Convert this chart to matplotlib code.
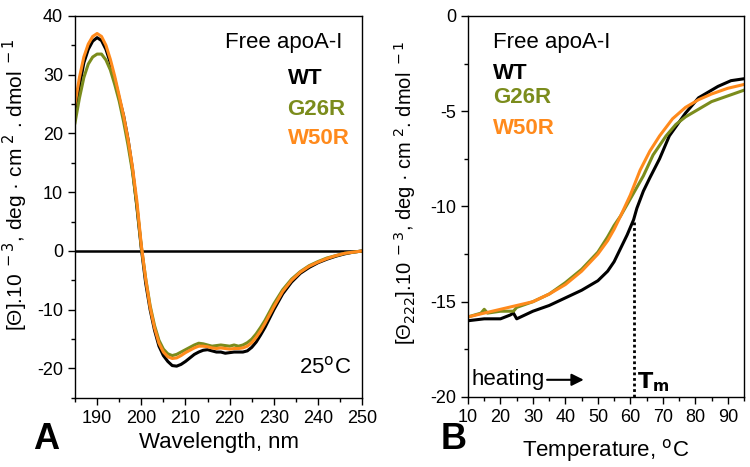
import numpy as np
import matplotlib
matplotlib.use('Agg')
import matplotlib.pyplot as plt
from matplotlib.ticker import MultipleLocator

plt.rcParams['font.family'] = ['Liberation Sans', 'DejaVu Sans']
plt.rcParams['axes.unicode_minus'] = False

# panel A: CD spectra at 25 C
wl = [185, 186, 187, 188, 189, 190, 191, 192, 193, 194, 195, 196, 197, 198, 199, 200,
      201, 202, 203, 204, 205, 206, 207, 208, 209, 210, 211, 212, 213, 214, 215, 216,
      217, 218, 219, 220, 221, 222, 223, 224, 225, 226, 227, 228, 229, 230, 232, 234,
      236, 238, 240, 242, 244, 246, 248, 250]
cd_wt = [23.5, 28, 32, 34.3, 35.7, 36.3, 35.8, 34.3, 32, 29.2, 26, 23, 19, 14, 7.5, 0.5,
         -5.5, -10, -13.5, -16.2, -17.8, -18.8, -19.5, -19.6, -19.3, -18.8, -18.2, -17.6, -17.2, -16.9, -16.8, -17.0,
         -17.2, -17.2, -17.4, -17.3, -17.2, -17.2, -17.2, -17.0, -16.4, -15.5, -14.3, -13.0, -11.5, -10.0, -7.3, -5.3,
         -3.8, -2.8, -2.0, -1.4, -0.9, -0.5, -0.2, 0]
cd_g26r = [21.8, 26, 29.5, 31.8, 33, 33.5, 33.5, 32.5, 30.8, 28.3, 25.5, 22, 18, 13.5, 7.8, 0.8,
           -4.7, -9.3, -12.7, -15.2, -16.7, -17.5, -17.8, -17.6, -17.2, -16.8, -16.4, -16.0, -15.7, -15.8, -16.0, -16.2,
           -16.1, -16.0, -16.1, -16.2, -16.0, -16.2, -16.0, -15.6, -15.0, -14.1, -13.0, -11.8, -10.4, -9.0, -6.6, -4.8,
           -3.5, -2.5, -1.8, -1.2, -0.8, -0.4, -0.2, 0]
cd_w50r = [25, 29.5, 33, 35.2, 36.5, 37, 36.5, 35, 32.6, 29.7, 26.4, 23, 19, 14.3, 8.5, 1.0,
           -4.8, -9.6, -13.1, -15.7, -17.2, -18.0, -18.3, -18.2, -17.8, -17.3, -16.9, -16.5, -16.2, -16.2, -16.3, -16.5,
           -16.6, -16.5, -16.6, -16.7, -16.6, -16.6, -16.5, -16.2, -15.6, -14.7, -13.6, -12.3, -10.9, -9.5, -6.9, -5.0,
           -3.6, -2.6, -1.9, -1.3, -0.8, -0.4, -0.2, 0]

# panel B: thermal unfolding at 222 nm
t_wt = [10, 15, 20, 23, 24, 25, 30, 35, 40, 45, 50, 53, 55, 57, 59, 61, 62, 64, 66, 69, 72, 77, 81, 87, 91, 95]
m_wt = [-16.0, -15.9, -15.9, -15.7, -15.6, -15.9, -15.5, -15.2, -14.8, -14.4, -13.9, -13.4, -12.9, -12.2, -11.5,
        -10.7, -10.1, -9.2, -8.5, -7.5, -6.3, -5.1, -4.3, -3.7, -3.4, -3.3]
t_g26r = [10, 14, 15, 16, 20, 24, 25, 30, 35, 40, 45, 50, 53, 55, 57, 60, 64, 67, 71, 74, 77, 81, 85, 90, 95]
m_g26r = [-15.8, -15.6, -15.4, -15.6, -15.5, -15.5, -15.3, -15.0, -14.6, -14.0, -13.3, -12.4, -11.6, -11.0, -10.5,
          -9.6, -8.4, -7.3, -6.3, -5.7, -5.3, -4.9, -4.5, -4.2, -3.9]
t_w50r = [10, 15, 20, 25, 30, 35, 40, 45, 50, 53, 55, 57, 60, 63, 66, 69, 73, 77, 81, 85, 90, 95]
m_w50r = [-15.8, -15.6, -15.4, -15.2, -15.0, -14.6, -14.1, -13.4, -12.5, -11.8, -11.2, -10.5, -9.4, -8.1, -7.1,
          -6.3, -5.4, -4.8, -4.4, -4.1, -3.8, -3.6]
tm = 61
tm_val = -10.8

c_wt = 'black'
c_g26r = '#7b8c1c'
c_w50r = '#ff8a1c'

fig = plt.figure(figsize=(7.5, 4.67), dpi=100)
axA = fig.add_axes([0.1, 0.148, 0.383, 0.818])
axB = fig.add_axes([0.624, 0.150, 0.368, 0.816])

for ax in (axA, axB):
    ax.tick_params(which='major', direction='out', length=5, width=1, labelsize=13,
                   top=False, right=False)
    ax.tick_params(which='minor', direction='out', length=3, width=1, top=False, right=False)
    for s in ax.spines.values():
        s.set_linewidth(1)

# A
axA.axhline(0, color='black', lw=1.8)
axA.plot(wl, cd_wt, color=c_wt, lw=2.2)
axA.plot(wl, cd_g26r, color=c_g26r, lw=2.2)
axA.plot(wl, cd_w50r, color=c_w50r, lw=2.2)
axA.set_xlim(185, 250)
axA.set_ylim(-25, 40)
axA.xaxis.set_major_locator(MultipleLocator(10))
axA.xaxis.set_minor_locator(MultipleLocator(5))
axA.yaxis.set_major_locator(MultipleLocator(10))
axA.yaxis.set_minor_locator(MultipleLocator(5))
axA.set_xlabel('Wavelength, nm', fontsize=16)
axA.set_ylabel(r'[Θ].10$^{\ -3}$, deg · cm$^{\ 2}$ . dmol$^{\ -1}$', fontsize=15)
axA.yaxis.label.set_ha('left')
axA.yaxis.set_label_coords(-0.155, 0.175)
axA.text(0.93, 0.93, 'Free apoA-I', transform=axA.transAxes, ha='right', va='center', fontsize=16)
axA.text(0.74, 0.835, 'WT', transform=axA.transAxes, ha='left', va='center',
         fontsize=16, fontweight='bold', color=c_wt)
axA.text(0.74, 0.755, 'G26R', transform=axA.transAxes, ha='left', va='center',
         fontsize=16, fontweight='bold', color=c_g26r)
axA.text(0.74, 0.68, 'W50R', transform=axA.transAxes, ha='left', va='center',
         fontsize=16, fontweight='bold', color=c_w50r)
axA.text(0.96, 0.08, r'25$^{\rm o}$C', transform=axA.transAxes, ha='right', va='center', fontsize=16)
fig.text(0.062, 0.058, 'A', fontsize=26, fontweight='bold', ha='center', va='center')

# B
axB.plot(t_wt, m_wt, color=c_wt, lw=2.2)
axB.plot(t_g26r, m_g26r, color=c_g26r, lw=2.2)
axB.plot(t_w50r, m_w50r, color=c_w50r, lw=2.2)
axB.plot([tm, tm], [-20, tm_val], color='black', lw=2, ls=(0, (1, 1)))
axB.set_xlim(10, 95)
axB.set_ylim(-20, 0)
axB.xaxis.set_major_locator(MultipleLocator(10))
axB.xaxis.set_minor_locator(MultipleLocator(5))
axB.yaxis.set_major_locator(MultipleLocator(5))
axB.yaxis.set_minor_locator(MultipleLocator(2.5))
axB.set_xlabel(r'Temperature, $^{\rm o}$C', fontsize=16, labelpad=8)
axB.set_ylabel(r'[Θ$_{222}$].10$^{\ -3}$, deg · cm$^{\ 2}$. dmol$^{\ -1}$', fontsize=14.5)
axB.yaxis.set_label_coords(-0.18, 0.535)
axB.text(0.09, 0.93, 'Free apoA-I', transform=axB.transAxes, ha='left', va='center', fontsize=16)
axB.text(0.09, 0.85, 'WT', transform=axB.transAxes, ha='left', va='center',
         fontsize=16, fontweight='bold', color=c_wt)
axB.text(0.09, 0.785, 'G26R', transform=axB.transAxes, ha='left', va='center',
         fontsize=16, fontweight='bold', color=c_g26r)
axB.text(0.09, 0.705, 'W50R', transform=axB.transAxes, ha='left', va='center',
         fontsize=16, fontweight='bold', color=c_w50r)
axB.text(11, -19.1, 'heating', ha='left', va='center', fontsize=16)
axB.annotate('', xy=(46.5, -19.1), xytext=(33.5, -19.1),
             arrowprops=dict(arrowstyle='-|>', color='black', lw=1.5, mutation_scale=18))
axB.text(62, -19.2, r'$\mathbf{T}_{\mathbf{m}}$', ha='left', va='center', fontsize=16)
fig.text(0.605, 0.058, 'B', fontsize=26, fontweight='bold', ha='center', va='center')

fig.savefig('out.png', dpi=100)
